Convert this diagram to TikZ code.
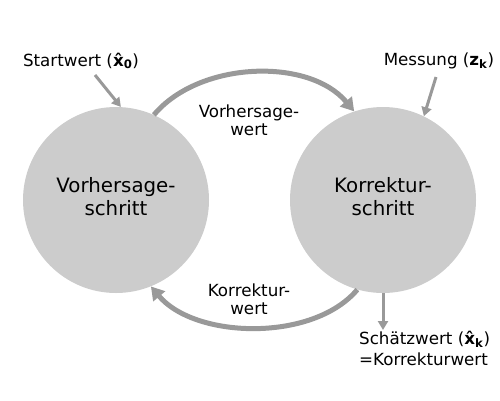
\documentclass[tikz,border=0pt]{standalone}
\usepackage{fontspec}
\setmainfont{DejaVu Sans}
\usetikzlibrary{arrows.meta}
\definecolor{stepgray}{RGB}{204, 204, 204}
\definecolor{flowgray}{RGB}{153, 153, 153}
\newcommand{\xhat}[1]{\textbf{x̂}\textsubscript{\textbf{#1}}}

\begin{document}
\begin{tikzpicture}[x=1pt, y=-1pt,
    stepnode/.style={circle, fill=stepgray, minimum size=186pt, inner sep=0pt},
    steptext/.style={align=center, inner sep=0pt, font=\fontsize{19.8}{23}\selectfont},
    lbl/.style={align=center, inner sep=0pt, font=\fontsize{16.7}{18}\selectfont},
    flow/.style={draw=flowgray, line width=5pt, -{Triangle[length=13pt, width=15pt]}},
    pinarrow/.style={draw=flowgray, line width=3pt, -{Triangle[length=9pt, width=10pt]}}]
        \useasboundingbox (0,0) rectangle (500,400);

        \node[stepnode] (vs) at (116,200) {};
        \node[stepnode] (ks) at (383,200) {};
        \node[steptext] (vstext) at ([yshift=3pt]vs.center) {Vorhersage-\\schritt};
        \node[steptext] (kstext) at ([yshift=3pt]ks.center) {Korrektur-\\schritt};

        \node[lbl] (start) at (81,61) {Startwert (\xhat{0})};
        \node[lbl] (mess) at (439,61) {Messung (\textbf{z}\textsubscript{\textbf{k}})};
        \node[lbl] (vw) at (249,120) {Vorhersage-\\wert};
        \node[lbl] (kw) at (249,299) {Korrektur-\\wert};
        \node[lbl, align=left, anchor=north west] (est) at (359,331)
          {Schätzwert (\xhat{k})\\[3pt]=Korrekturwert};

        % Pfeile zwischen den Schritten
        \draw[flow] (vs.66) to[out=50, in=130, looseness=0.9] (ks.108);
        \draw[flow] (ks.-106) to[out=-130, in=-50, looseness=0.85] (vs.-68);

        % Ein- und Ausgaben
        \coordinate (startend) at (95,75);
        \coordinate (messend) at (436,77);
        \coordinate (estend) at (383,330);
        \draw[pinarrow] (startend) -- (vs.87);
        \draw[pinarrow] (messend) -- (ks.64);
        \draw[pinarrow] (ks.south) -- (estend);
      \end{tikzpicture}
\end{document}
